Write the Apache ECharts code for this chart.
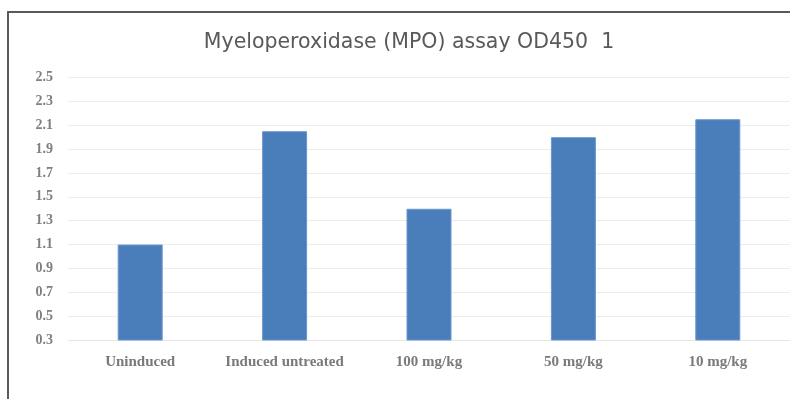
<!DOCTYPE html>
<html><head><meta charset="utf-8">
<script src="https://cdn.jsdelivr.net/npm/echarts@6/dist/echarts.min.js"></script>
<style>html,body{margin:0;padding:0;background:#fff}#c{width:790px;height:399px}</style>
</head><body><div id="c"></div>
<script>
const categories = ['Uninduced', 'Induced untreated', '100 mg/kg', '50 mg/kg', '10 mg/kg'];
const values = [1.1, 2.05, 1.4, 2.0, 2.15];
const titleText = 'Myeloperoxidase (MPO) assay OD450  1';

const chart = echarts.init(document.getElementById('c'), null, {renderer: 'canvas'});
chart.setOption({
  animation: false,
  backgroundColor: '#ffffff',
  title: {
    text: titleText, left: 404, textAlign: 'center', top: 27,
    textStyle: {fontFamily: 'DejaVu Sans', fontSize: 20.5, fontWeight: 'normal', color: '#595959'}
  },
  graphic: [
    {type: 'line', shape: {x1: 7, y1: 12, x2: 790, y2: 12}, style: {stroke: '#5a5a5a', lineWidth: 2}},
    {type: 'line', shape: {x1: 8, y1: 12, x2: 8, y2: 399}, style: {stroke: '#5a5a5a', lineWidth: 2}}
  ],
  grid: {left: 68, right: -1, top: 77.5, bottom: 59},
  xAxis: {
    type: 'category', data: categories,
    axisLine: {lineStyle: {color: '#e6e6e6', width: 1}},
    axisTick: {show: false},
    axisLabel: {interval: 0, hideOverlap: false, margin: 15, fontFamily: 'Liberation Serif', fontSize: 15, fontWeight: 'bold', color: '#7a7a7a'}
  },
  yAxis: {
    type: 'value', min: 0.3, max: 2.5, interval: 0.2,
    axisLine: {show: false}, axisTick: {show: false},
    splitLine: {lineStyle: {color: '#ececec', width: 1}},
    axisLabel: {margin: 15, fontFamily: 'Liberation Serif', fontSize: 14, fontWeight: 'bold', color: '#808080',
      formatter: v => v.toFixed(1)}
  },
  series: [{
    type: 'bar', data: values, barWidth: 45,
    itemStyle: {color: '#4a7ebb', borderColor: '#6a96cc', borderWidth: 1}
  }]
});
</script></body></html>
